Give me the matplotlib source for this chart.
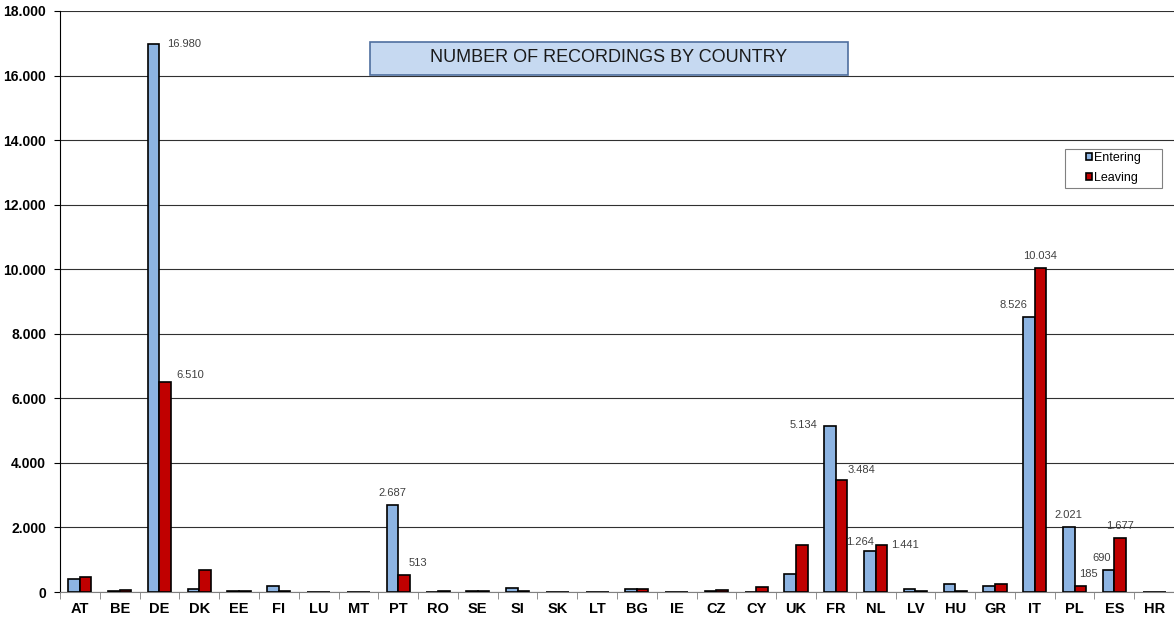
import numpy as np
import matplotlib.pyplot as plt
from matplotlib.patches import Rectangle
from matplotlib.ticker import FuncFormatter, MultipleLocator

countries = ['AT', 'BE', 'DE', 'DK', 'EE', 'FI', 'LU', 'MT', 'PT', 'RO', 'SE', 'SI', 'SK', 'LT',
             'BG', 'IE', 'CZ', 'CY', 'UK', 'FR', 'NL', 'LV', 'HU', 'GR', 'IT', 'PL', 'ES', 'HR']
entering = [410, 40, 16980, 100, 40, 185, 15, 10, 2687, 10, 30, 120, 10, 15,
            100, 15, 30, 10, 570, 5134, 1264, 90, 250, 175, 8526, 2021, 690, 10]
leaving = [480, 75, 6510, 690, 20, 40, 10, 15, 513, 40, 30, 20, 10, 15,
           100, 15, 70, 150, 1470, 3484, 1441, 20, 45, 250, 10034, 185, 1677, 15]

# which bars carry a value label, with the text offset in points
labels_e = {'DE': (22, -4), 'PT': (0, 5), 'FR': (-19, -3), 'NL': (-7, 3),
            'IT': (-11, 5), 'PL': (0, 5), 'ES': (-5, 5)}
labels_l = {'DE': (18, 1), 'PT': (10, 5), 'FR': (14, 3), 'NL': (17, -3),
            'IT': (0, 5), 'PL': (6, 5), 'ES': (0, 5)}

def fmt(v, pos=None):
    return '{:,}'.format(int(v)).replace(',', '.')

plt.rcParams['font.family'] = ['Liberation Sans', 'DejaVu Sans']

fig = plt.figure(figsize=(11.74, 6.17), dpi=100)
ax = fig.add_axes([60 / 1174, 1 - 592 / 617, 1 - 60 / 1174, 581 / 617])

x = np.arange(len(countries))
w = 0.29
ax.bar(x - w / 2, entering, w, color='#8DB4E2', edgecolor='black', linewidth=1.2,
       label='Entering', zorder=3)
ax.bar(x + w / 2, leaving, w, color='#C00000', edgecolor='black', linewidth=1.2,
       label='Leaving', zorder=3)

for i, c in enumerate(countries):
    if c in labels_e:
        ax.annotate(fmt(entering[i]), (x[i] - w / 2, entering[i]), xytext=labels_e[c],
                    textcoords='offset points', ha='center', va='bottom', fontsize=8,
                    color='#404040', zorder=4)
    if c in labels_l:
        ax.annotate(fmt(leaving[i]), (x[i] + w / 2, leaving[i]), xytext=labels_l[c],
                    textcoords='offset points', ha='center', va='bottom', fontsize=8,
                    color='#404040', zorder=4)

ax.set_xlim(-0.5, len(countries) - 0.5)
ax.set_ylim(0, 18000)
ax.yaxis.set_major_locator(MultipleLocator(2000))
ax.yaxis.set_major_formatter(FuncFormatter(fmt))
ax.grid(axis='y', color='#303030', linewidth=0.8, zorder=0)

ax.set_xticks(x)
ax.set_xticklabels(countries)
ax.set_xticks(np.arange(len(countries) + 1) - 0.5, minor=True)
ax.tick_params(axis='x', which='major', length=0, pad=7, labelsize=10.5)
ax.tick_params(axis='x', which='minor', length=5, color='#808080', direction='out')
ax.tick_params(axis='y', length=4, direction='out', labelsize=10, pad=6)
for lab in ax.get_xticklabels() + ax.get_yticklabels():
    lab.set_fontweight('bold')

for s in ['top', 'right']:
    ax.spines[s].set_visible(False)
ax.spines['left'].set_color('black')
ax.spines['bottom'].set_color('#808080')

# title box
fig.patches.append(Rectangle((370 / 1174, 1 - 75 / 617), 478 / 1174, 33 / 617,
                             transform=fig.transFigure, facecolor='#C6D9F1',
                             edgecolor='#4F6F9F', linewidth=1.2, zorder=5))
fig.text(609 / 1174, 1 - 58 / 617, 'NUMBER OF RECORDINGS BY COUNTRY', ha='center',
         va='center', fontsize=13, color='#1a1a1a', zorder=6)

# legend frame drawn by hand, entries centred inside
fig.patches.append(Rectangle((1065 / 1174, 1 - 188 / 617), 97 / 1174, 39 / 617,
                             transform=fig.transFigure, facecolor='white',
                             edgecolor='#808080', linewidth=0.8, zorder=5))
leg = fig.legend(loc='center', bbox_to_anchor=(1113.5 / 1174, 1 - 168 / 617),
                 fontsize=9, frameon=False,
                 handlelength=0.45, handleheight=0.45, handletextpad=0.2,
                 borderpad=0, labelspacing=0.6)
leg.set_zorder(6)

fig.savefig('out.png', dpi=100)
